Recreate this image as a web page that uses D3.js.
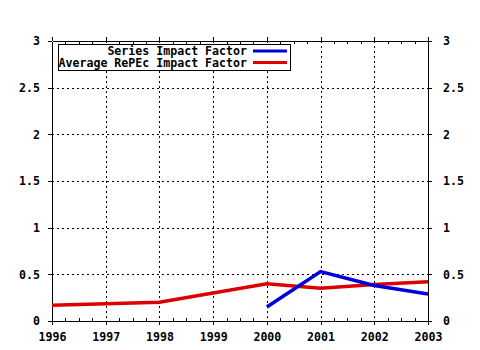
<!DOCTYPE html>
<html><head><meta charset="utf-8">
<script src="https://cdn.jsdelivr.net/npm/d3@7"></script>
<style>body{margin:0;background:#fff}svg{display:block}text{font-family:"DejaVu Sans Mono",monospace;font-weight:bold;font-size:11.6px;fill:#000}</style>
</head><body><svg id="c" width="480" height="350"></svg>
<script>
const years = [1996, 1997, 1998, 1999, 2000, 2001, 2002, 2003];
const seriesYears = [2000, 2001, 2002, 2003];
const seriesImpact = [0.15, 0.53, 0.38, 0.29];
const averageImpact = [0.17, 0.185, 0.20, 0.30, 0.40, 0.35, 0.39, 0.42];
const yTicks = [0, 0.5, 1, 1.5, 2, 2.5, 3];
const yTickLabels = ["0", "0.5", "1", "1.5", "2", "2.5", "3"];
const legendLabels = ["Series Impact Factor", "Average RePEc Impact Factor"];
const colors = ["#0000dd", "#dd0000"];

const svg = d3.select("#c");
const L = 52, R = 428, T = 41, B = 321;
const x = d3.scaleLinear().domain([1996, 2003]).range([L, R]);
const y = d3.scaleLinear().domain([0, 3]).range([B, T]);

// grid
const g = svg.append("g");
g.selectAll(".gx").data(years.slice(1, -1)).enter().append("line")
  .attr("x1", d => Math.round(x(d)) + 0.5).attr("x2", d => Math.round(x(d)) + 0.5)
  .attr("y1", T).attr("y2", B).attr("stroke", "#000").attr("stroke-dasharray", "2,3");
g.selectAll(".gy").data(yTicks.slice(1, -1)).enter().append("line")
  .attr("y1", d => Math.round(y(d)) + 0.5).attr("y2", d => Math.round(y(d)) + 0.5)
  .attr("x1", L).attr("x2", R).attr("stroke", "#000").attr("stroke-dasharray", "2,3");

// minor x ticks (quarters)
const minor = [];
for (let yr = 1996; yr < 2003; yr++) for (let q = 1; q < 4; q++) minor.push(yr + q / 4);

// axes
const fmt = (d, i) => yTickLabels[i];
const axB = d3.axisBottom(x).tickValues(years).tickFormat(d3.format("d")).tickSize(4).tickSizeOuter(0).tickPadding(8);
const axT = d3.axisTop(x).tickValues(years).tickFormat("").tickSize(4).tickSizeOuter(0);
const axL = d3.axisLeft(y).tickValues(yTicks).tickFormat(fmt).tickSize(4).tickSizeOuter(0).tickPadding(8);
const axR = d3.axisRight(y).tickValues(yTicks).tickFormat(fmt).tickSize(4).tickSizeOuter(0).tickPadding(11);

function style(sel) {
  sel.selectAll("path,line").attr("stroke", "#000").attr("stroke-width", 1).attr("shape-rendering", "crispEdges");
  sel.selectAll("text").attr("fill", "#000").attr("font-family", null).attr("font-size", null);
  sel.attr("font-family", null).attr("font-size", null);
}
const gb = svg.append("g").attr("transform", `translate(0,${B})`).call(axB); style(gb);
gb.selectAll("text").attr("dy", "0.71em");
const gt = svg.append("g").attr("transform", `translate(0,${T})`).call(axT); style(gt);
const gl = svg.append("g").attr("transform", `translate(${L},0)`).call(axL); style(gl);
const gr = svg.append("g").attr("transform", `translate(${R},0)`).call(axR); style(gr);
gr.selectAll("text").attr("dx", "0");

// minor ticks
svg.append("g").selectAll("line").data(minor).enter().append("line")
  .attr("x1", d => Math.round(x(d)) + 0.5).attr("x2", d => Math.round(x(d)) + 0.5)
  .attr("y1", B).attr("y2", B - 3).attr("stroke", "#000");
svg.append("g").selectAll("line").data(minor).enter().append("line")
  .attr("x1", d => Math.round(x(d)) + 0.5).attr("x2", d => Math.round(x(d)) + 0.5)
  .attr("y1", T).attr("y2", T + 3).attr("stroke", "#000");

// lines
const line = d3.line().x(d => x(d[0])).y(d => y(d[1]));
svg.append("path").datum(years.map((yr, i) => [yr, averageImpact[i]]))
  .attr("d", line).attr("fill", "none").attr("stroke", colors[1]).attr("stroke-width", 3.5);
svg.append("path").datum(seriesYears.map((yr, i) => [yr, seriesImpact[i]]))
  .attr("d", line).attr("fill", "none").attr("stroke", colors[0]).attr("stroke-width", 3.5);

// legend
const lg = svg.append("g");
lg.append("rect").attr("x", 58.5).attr("y", 44.5).attr("width", 232).attr("height", 26)
  .attr("fill", "#fff").attr("stroke", "#000");
legendLabels.forEach((lab, i) => {
  lg.append("text").attr("x", 247).attr("y", 55 + i * 12).attr("text-anchor", "end").text(lab);
  lg.append("line").attr("x1", 253).attr("x2", 287).attr("y1", 51 + i * 11.5).attr("y2", 51 + i * 11.5)
    .attr("stroke", colors[i]).attr("stroke-width", 3);
});
</script></body></html>
